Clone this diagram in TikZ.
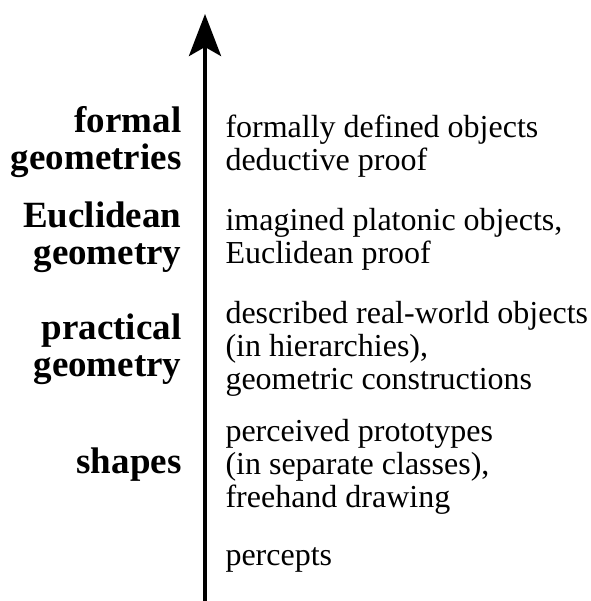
\documentclass[tikz,border=0pt]{standalone}
\usepackage{fontspec}
\setmainfont{Liberation Serif}
\usepackage{tikz}
\usetikzlibrary{arrows.meta}

\begin{document}
\begin{tikzpicture}[x=1pt, y=-1pt,
            livello/.style={anchor=east, align=right,
                    font=\fontsize{37}{37}\selectfont\bfseries},
            descr/.style={anchor=west, align=left,
                    font=\fontsize{32}{33}\selectfont}
        ]
        \useasboundingbox (0,0) rectangle (590,601);
        % image coordinates: y grows downwards
        \coordinate (base) at (205, 601);
        \coordinate (cima) at (205, 14);
        \draw[line width=4pt, -{Stealth[length=42pt, width=32pt, inset=9pt]}] (base) -- (cima);

        \node[livello] (formal) at (185, 142) {formal\\geometries};
        \node[livello] (eucl)   at (185, 237) {Euclidean\\geometry};
        \node[livello] (pract)  at (185, 349) {practical\\geometry};
        \node[livello] (shapes) at (185, 465) {shapes};

        \node[descr] (dformal) at (222, 146) {formally defined objects\\deductive proof};
        \node[descr] (deucl)   at (222, 239) {imagined platonic objects,\\Euclidean proof};
        \node[descr] (dpract)  at (222, 349) {described real-world objects\\(in hierarchies),\\geometric constructions};
        \node[descr] (dshapes) at (222, 467) {perceived prototypes\\(in separate classes),\\freehand drawing};
        \node[descr] (dperc)   at (222, 560) {percepts};
    \end{tikzpicture}
\end{document}
